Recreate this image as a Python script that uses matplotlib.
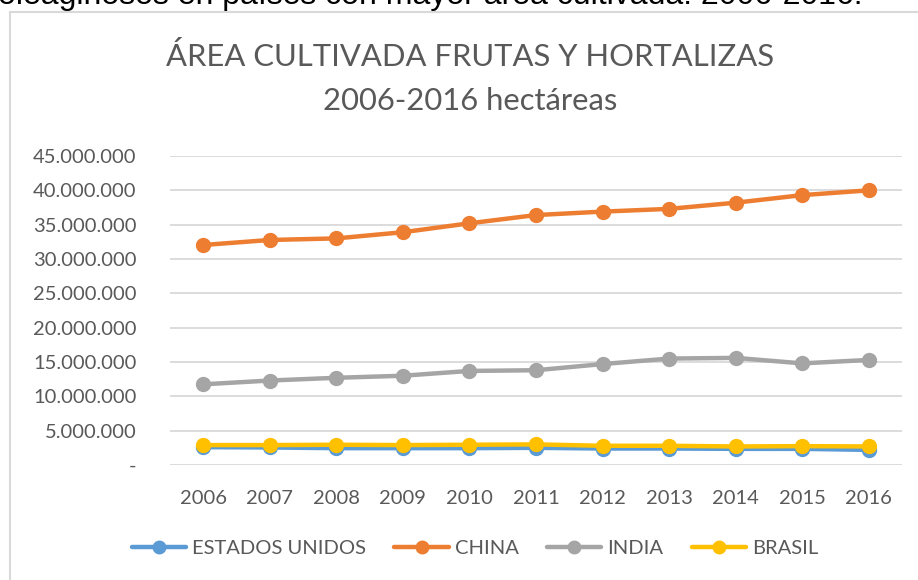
import matplotlib
matplotlib.use("Agg")
import matplotlib.pyplot as plt
from matplotlib.patches import Rectangle

# datos (hectáreas)
years = [2006, 2007, 2008, 2009, 2010, 2011, 2012, 2013, 2014, 2015, 2016]
estados_unidos = [2600000, 2550000, 2450000, 2450000, 2450000, 2500000, 2400000, 2400000, 2350000, 2350000, 2200000]
china = [32040000, 32770000, 33000000, 33900000, 35200000, 36400000, 36900000, 37300000, 38200000, 39300000, 40000000]
india = [11750000, 12300000, 12700000, 13000000, 13700000, 13800000, 14700000, 15500000, 15600000, 14800000, 15300000]
brasil = [2900000, 2900000, 2950000, 2900000, 2950000, 3000000, 2800000, 2800000, 2700000, 2750000, 2700000]
series_names = ['ESTADOS UNIDOS', 'CHINA', 'INDIA', 'BRASIL']
colores = ['#5b9bd5', '#ed7d31', '#a5a5a5', '#ffc000']
yticks = [0, 5000000, 10000000, 15000000, 20000000, 25000000, 30000000, 35000000, 40000000, 45000000]

W, H = 918, 580
fig = plt.figure(figsize=(W / 100, H / 100), dpi=100)
fig.patch.set_facecolor('white')

# texto del documento (cortado arriba, como en la captura)
fig.text(-2 / W, 1 - 4 / H, 'oleaginosos en países con mayor área cultivada. 2006-2016.',
         fontsize=23, family='Liberation Sans', color='black', va='baseline', ha='left')

# borde del gráfico
fig.patches.append(Rectangle((10 / W, -0.1), 1.2, 1 - 12 / H + 0.1, transform=fig.transFigure,
                             fill=False, edgecolor='#d9d9d9', linewidth=1.5))

gris = '#595959'
fig.text(470 / W, 1 - 56 / H, 'ÁREA CULTIVADA FRUTAS Y HORTALIZAS', fontsize=22.3,
         family='Lato', color=gris, ha='center', va='center')
fig.text(470 / W, 1 - 101 / H, '2006-2016 hectáreas', fontsize=22.3,
         family='Lato', color=gris, ha='center', va='center')

ax = fig.add_axes([170 / W, 115 / H, 732 / W, 309 / H])
data = [estados_unidos, china, india, brasil]
for nombre, vals, c in zip(series_names, data, colores):
    ax.plot(years, vals, color=c, linewidth=3.2, marker='o', markersize=10,
            solid_capstyle='round', label=nombre)

ax.set_xlim(2005.5, 2016.5)
ax.set_ylim(0, 45000000)
ax.set_yticks(yticks)
ax.set_yticklabels(['-' if v == 0 else f'{v:,}'.replace(',', '.') for v in yticks])
ax.set_xticks(years)
ax.set_xticklabels([str(y) for y in years])
ax.grid(axis='y', color='#d9d9d9', linewidth=1.3)
ax.set_axisbelow(True)
for s in ax.spines.values():
    s.set_visible(False)
ax.tick_params(length=0, labelcolor=gris, labelsize=14.5)
ax.tick_params(axis='x', pad=18)
ax.tick_params(axis='y', pad=24)
for t in ax.get_xticklabels() + ax.get_yticklabels():
    t.set_family('Lato')

leg = fig.legend(loc='center', bbox_to_anchor=(475 / W, 1 - 548 / H), ncol=4, frameon=False,
                 prop={'family': 'Lato', 'size': 14.5}, handlelength=2.7, handletextpad=0.3,
                 columnspacing=1.4, labelcolor=gris, markerscale=0.9)

fig.savefig('out.png', dpi=100)
